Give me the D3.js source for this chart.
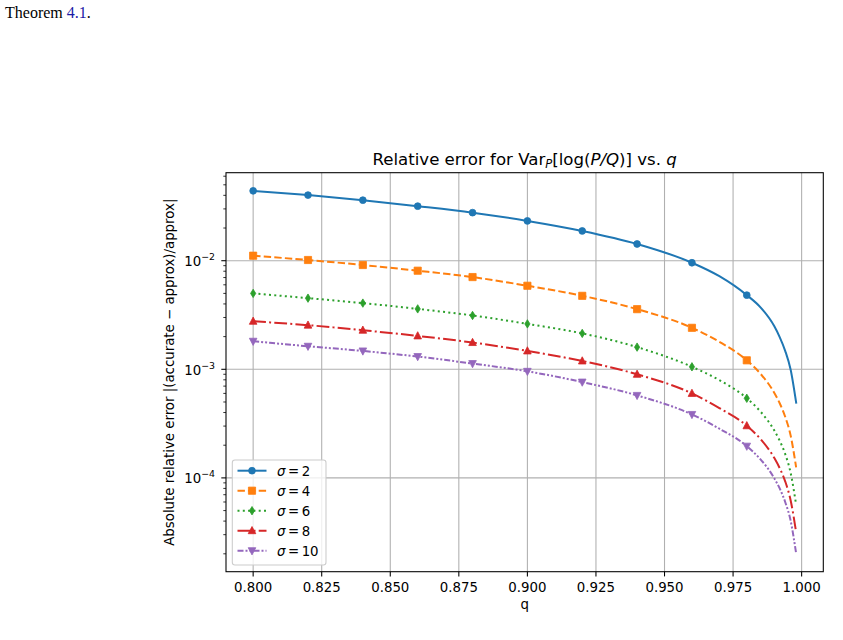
<!DOCTYPE html>
<html>
<head>
<meta charset="utf-8">
<script src="https://cdn.jsdelivr.net/npm/d3@7"></script>
<style>
  html, body { margin: 0; padding: 0; background: #fff; }
  svg { display: block; }
  text { font-family: "DejaVu Sans", sans-serif; fill: #000; }
</style>
</head>
<body>
<svg id="chart" width="843" height="640"></svg>
<script>
// ---- data ----
const qValues = [0.80, 0.82, 0.84, 0.86, 0.88, 0.90, 0.92, 0.94, 0.96, 0.97, 0.98, 0.985, 0.99, 0.992, 0.994, 0.996, 0.998];
const markerQ = [0.80, 0.82, 0.84, 0.86, 0.88, 0.90, 0.92, 0.94, 0.96, 0.98];
const sigma2  = [0.0440, 0.0402, 0.0361, 0.0318, 0.0277, 0.02326, 0.0188, 0.01426, 0.00958, 0.0072, 0.00482, 0.00372, 0.0025, 0.00198, 0.00148, 0.00099, 0.000493];
const sigma4  = [0.01112, 0.01015, 0.00913, 0.00809, 0.00707, 0.00588, 0.00475, 0.00358, 0.00241, 0.00179, 0.00121, 0.00091, 0.000608, 0.000487, 0.000366, 0.000245, 0.000125];
const sigma6  = [0.00500, 0.00452, 0.00407, 0.00360, 0.00313, 0.00262, 0.00214, 0.00160, 0.001054, 0.000795, 0.000541, 0.000408, 0.000274, 0.00022, 0.000166, 0.000111, 0.0000564];
const sigma8  = [0.00277, 0.00255, 0.00229, 0.00203, 0.001764, 0.001476, 0.001193, 0.000899, 0.00060, 0.00044, 0.000302, 0.000228, 0.000153, 0.000123, 0.000093, 0.000062, 0.0000315];
const sigma10 = [0.001813, 0.00163, 0.001476, 0.00131, 0.001129, 0.000958, 0.000763, 0.000575, 0.000384, 0.000284, 0.000196, 0.000148, 0.0000995, 0.00008, 0.00006, 0.0000402, 0.0000201];
const seriesLabels = ["2", "4", "6", "8", "10"];
const xTickValues = [0.800, 0.825, 0.850, 0.875, 0.900, 0.925, 0.950, 0.975, 1.000];
const yTickExponents = [-4, -3, -2];

// ---- styles ----
const colors = ["#1f77b4", "#ff7f0e", "#2ca02c", "#d62728", "#9467bd"];
const dashes = [null, "7.4,3.2", "2,3.3", "12.8,3.2,2,3.2", "6,2,2,2,2,2"];
const markerTypes = ["circle", "square", "thindiamond", "triangleUp", "triangleDown"];
const allSeries = [sigma2, sigma4, sigma6, sigma8, sigma10];

const svg = d3.select("#chart");
const L = 226, R = 823.3, T = 172.7, B = 571.7;

// matplotlib-like 5% margins
const xPad = (d3.max(qValues) - d3.min(qValues)) * 0.05;
const x = d3.scaleLinear().domain([d3.min(qValues) - xPad, d3.max(qValues) + xPad]).range([L, R]);
const allVals = allSeries.flat();
const lmin = Math.log10(d3.min(allVals)), lmax = Math.log10(d3.max(allVals));
const lp = (lmax - lmin) * 0.05;
const y = d3.scaleLog().domain([Math.pow(10, lmin - lp), Math.pow(10, lmax + lp)]).range([B, T]);

// top text fragment of the page
const pageText = svg.append("text").attr("x", 5).attr("y", 18)
  .style("font-family", "'Liberation Serif', serif").style("font-size", "16px");
pageText.append("tspan").text("Theorem ");
pageText.append("tspan").style("fill", "#1a1aa6").text("4.1");
pageText.append("tspan").text(".");

// clip
svg.append("defs").append("clipPath").attr("id", "clip")
  .append("rect").attr("x", L).attr("y", T).attr("width", R - L).attr("height", B - T);

// grid
const grid = svg.append("g");
xTickValues.forEach(v => {
  grid.append("line").attr("x1", x(v)).attr("x2", x(v)).attr("y1", T).attr("y2", B)
    .attr("stroke", "#b0b0b0").attr("stroke-width", 1.07);
});
yTickExponents.forEach(e => {
  grid.append("line").attr("x1", L).attr("x2", R).attr("y1", y(Math.pow(10, e))).attr("y2", y(Math.pow(10, e)))
    .attr("stroke", "#b0b0b0").attr("stroke-width", 1.07);
});

// marker path generator
function markerPath(type) {
  const s = 3.6;
  switch (type) {
    case "circle": return d3.symbol(d3.symbolCircle, Math.PI * 3.4 * 3.4)();
    case "square": return `M${-s},${-s}L${s},${-s}L${s},${s}L${-s},${s}Z`;
    case "thindiamond": return `M0,${-4.2}L${2.6},0L0,${4.2}L${-2.6},0Z`;
    case "triangleUp": return `M0,${-4.2}L${3.8},${3}L${-3.8},${3}Z`;
    case "triangleDown": return `M0,${4.2}L${3.8},${-3}L${-3.8},${-3}Z`;
  }
}

// lines
const lineGen = d3.line().x(d => x(d[0])).y(d => y(d[1])).curve(d3.curveMonotoneX);
const plot = svg.append("g").attr("clip-path", "url(#clip)");
allSeries.forEach((vals, i) => {
  const pts = qValues.map((qq, j) => [qq, vals[j]]);
  plot.append("path").attr("d", lineGen(pts)).attr("fill", "none")
    .attr("stroke", colors[i]).attr("stroke-width", 2)
    .attr("stroke-dasharray", dashes[i]).attr("stroke-linejoin", "round")
    .attr("stroke-linecap", dashes[i] ? "butt" : "square");
  const mpts = pts.filter(p => markerQ.some(m => Math.abs(m - p[0]) < 1e-9));
  plot.selectAll(null).data(mpts).enter().append("path")
    .attr("d", markerPath(markerTypes[i]))
    .attr("transform", d => `translate(${x(d[0])},${y(d[1])})`)
    .attr("fill", colors[i]).attr("stroke", colors[i]).attr("stroke-width", 0.8);
});

// spines
svg.append("rect").attr("x", L).attr("y", T).attr("width", R - L).attr("height", B - T)
  .attr("fill", "none").attr("stroke", "#000").attr("stroke-width", 1.07);

// x ticks
const xt = svg.append("g");
xTickValues.forEach(v => {
  xt.append("line").attr("x1", x(v)).attr("x2", x(v)).attr("y1", B).attr("y2", B + 4.7)
    .attr("stroke", "#000").attr("stroke-width", 1.07);
  xt.append("text").attr("x", x(v)).attr("y", B + 19.8).attr("text-anchor", "middle")
    .style("font-size", "13.33px").text(d3.format(".3f")(v));
});

// y ticks (major + minor)
const yt = svg.append("g");
const [d0, d1] = y.domain();
for (let e = Math.floor(Math.log10(d0)); e <= Math.ceil(Math.log10(d1)); e++) {
  for (let m = 1; m <= 9; m++) {
    const v = m * Math.pow(10, e);
    if (v < d0 || v > d1) continue;
    const major = m === 1;
    yt.append("line").attr("x1", L).attr("x2", L - (major ? 4.7 : 2.7))
      .attr("y1", y(v)).attr("y2", y(v)).attr("stroke", "#000").attr("stroke-width", major ? 1.07 : 0.8);
  }
}
yTickExponents.forEach(e => {
  const t = yt.append("text").attr("x", L - 11).attr("y", y(Math.pow(10, e)) + 5.2)
    .attr("text-anchor", "end").style("font-size", "13.33px");
  t.append("tspan").text("10");
  t.append("tspan").attr("dy", -6).style("font-size", "9.4px").text("\u2212" + Math.abs(e));
});

// axis labels
svg.append("text").attr("x", (L + R) / 2).attr("y", 609).attr("text-anchor", "middle")
  .style("font-size", "13.33px").text("q");
svg.append("text").attr("transform", `translate(173.5,${(T + B) / 2}) rotate(-90)`)
  .attr("text-anchor", "middle").style("font-size", "13.33px")
  .text("Absolute relative error |(accurate \u2212 approx)/approx|");

// title
const title = svg.append("text").attr("x", (L + R) / 2).attr("y", 165).attr("text-anchor", "middle")
  .style("font-size", "16.6px");
title.append("tspan").text("Relative error for Var");
title.append("tspan").attr("dy", 3).style("font-size", "11.5px").style("font-style", "italic").text("P");
title.append("tspan").attr("dy", -3).text("[log(");
title.append("tspan").style("font-style", "italic").text("P/Q");
title.append("tspan").text(")] vs. ");
title.append("tspan").style("font-style", "italic").text("q");

// legend
const lg = svg.append("g");
lg.append("rect").attr("x", 232.3).attr("y", 460).attr("width", 93.7).attr("height", 105)
  .attr("rx", 2.7).attr("fill", "#fff").attr("fill-opacity", 0.8)
  .attr("stroke", "#cccccc").attr("stroke-width", 1.07);
seriesLabels.forEach((lab, i) => {
  const yy = 470.7 + i * 20;
  lg.append("line").attr("x1", 237.5).attr("x2", 266.5).attr("y1", yy).attr("y2", yy)
    .attr("stroke", colors[i]).attr("stroke-width", 2).attr("stroke-dasharray", dashes[i]);
  lg.append("path").attr("d", markerPath(markerTypes[i])).attr("transform", `translate(252,${yy})`)
    .attr("fill", colors[i]).attr("stroke", colors[i]).attr("stroke-width", 0.8);
  const t = lg.append("text").attr("x", 277).attr("y", yy + 4.8).style("font-size", "13.33px");
  t.append("tspan").style("font-style", "italic").text("\u03c3");
  t.append("tspan").attr("dx", 2.5).text("=");
  t.append("tspan").attr("dx", 2.5).text(lab);
});
</script>
</body>
</html>
